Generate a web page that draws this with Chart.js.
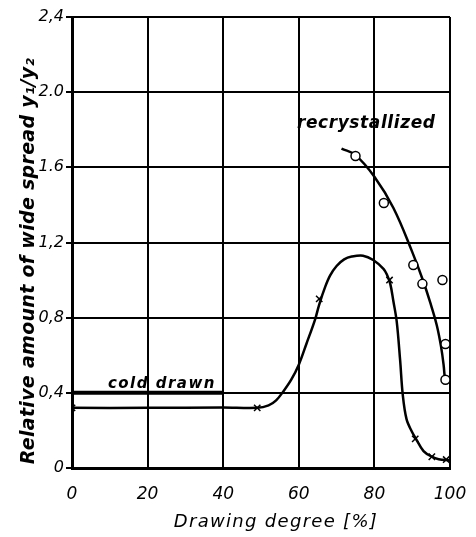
<!DOCTYPE html>
<html>
<head>
<meta charset="utf-8">
<script src="https://cdn.jsdelivr.net/npm/chart.js@4/dist/chart.umd.min.js"></script>
<style>
  html, body { margin: 0; padding: 0; background: #fff; }
  #wrap { width: 476px; height: 537px; }
</style>
</head>
<body>
<div id="wrap"><canvas id="c" width="476" height="537"></canvas></div>
<script>
// Drawing degree (%) and relative amount of wide spread, cold drawn wire (x marks)
const coldX = [0, 49, 65.4, 84, 90.8, 95.2, 99];
const coldY = [0.32, 0.32, 0.90, 1.0, 0.155, 0.06, 0.045];
// smooth trend through the cold drawn measurements
const coldCurveX = [0, 20, 40, 49, 52, 54, 56, 58, 60, 62, 64.3, 65.4, 67, 68.3, 70, 72, 74, 77, 79.7, 82.4, 83.3, 84.2, 85, 85.9, 86.8, 87.5, 88.5, 90, 91, 93, 95.2, 97, 100];
const coldCurveY = [0.32, 0.32, 0.322, 0.32, 0.333, 0.36, 0.41, 0.47, 0.55, 0.66, 0.79, 0.87, 0.965, 1.025, 1.075, 1.11, 1.125, 1.13, 1.107, 1.06, 1.03, 0.98, 0.89, 0.78, 0.575, 0.39, 0.26, 0.19, 0.155, 0.09, 0.06, 0.047, 0.04];

// recrystallized wire (open circles)
const recX = [75, 82.5, 90.3, 92.7, 98, 98.8, 98.8];
const recY = [1.66, 1.41, 1.08, 0.98, 1.0, 0.66, 0.47];
const recCurveX = [71.3, 75, 80, 85, 90, 93, 95, 96.5, 97.6, 98.3, 98.6];
const recCurveY = [1.70, 1.665, 1.55, 1.385, 1.15, 0.99, 0.865, 0.76, 0.65, 0.55, 0.48];

// cold drawn reference level
const refX = [0, 40];
const refY = [0.4, 0.4];

// axis ticks
const xTicks = [0, 20, 40, 60, 80, 100];
const yTicks = [0, 0.4, 0.8, 1.2, 1.6, 2.0, 2.4];
const yTickLabels = ['0', '0,4', '0,8', '1,2', '1.6', '2.0', '2,4'];

const pts = (xs, ys) => xs.map((x, i) => ({ x: x, y: ys[i] }));

const FONT = 'DejaVu Sans';

const labelsPlugin = {
  id: 'labels',
  afterDraw(chart) {
    const { ctx, scales } = chart;
    const xs = scales.x, ys = scales.y;
    ctx.save();
    ctx.fillStyle = '#000';
    ctx.textBaseline = 'alphabetic';
    // curve labels
    ctx.textAlign = 'left';
    ctx.font = 'bold italic 17px ' + FONT;
    ctx.letterSpacing = '0.6px';
    ctx.fillText('recrystallized', xs.getPixelForValue(59.5), ys.getPixelForValue(1.81));
    ctx.font = 'bold italic 15px ' + FONT;
    ctx.letterSpacing = '1.5px';
    ctx.fillText('cold drawn', xs.getPixelForValue(9.5), ys.getPixelForValue(0.4) - 5);
    // axis titles
    ctx.textAlign = 'center';
    ctx.font = 'italic 18px ' + FONT;
    ctx.letterSpacing = '1.3px';
    ctx.fillText('Drawing degree [%]', 276, 527);
    ctx.translate(34, 261);
    ctx.rotate(-Math.PI / 2);
    ctx.font = 'bold italic 19px ' + FONT;
    ctx.letterSpacing = '0.3px';
    ctx.fillText('Relative amount of wide spread y\u2081/y\u2082', 0, 0);
    ctx.restore();
  }
};

new Chart(document.getElementById('c'), {
  type: 'scatter',
  data: {
    datasets: [
      { data: pts(coldCurveX, coldCurveY), showLine: true, borderColor: '#000', borderWidth: 2.5, pointRadius: 0, tension: 0.35, order: 2 },
      { data: pts(coldX, coldY), pointStyle: 'crossRot', pointRadius: 4.5, borderColor: '#000', borderWidth: 1.5, order: 1 },
      { data: pts(recCurveX, recCurveY), showLine: true, borderColor: '#000', borderWidth: 2.5, pointRadius: 0, tension: 0.4, order: 2 },
      { data: pts(recX, recY), pointStyle: 'circle', pointRadius: 4.5, backgroundColor: '#fff', borderColor: '#000', borderWidth: 1.5, order: 1 },
      { data: pts(refX, refY), showLine: true, borderColor: '#000', borderWidth: 4, pointRadius: 0, order: 2 }
    ]
  },
  options: {
    responsive: false,
    animation: false,
    events: [],
    layout: { padding: { left: 0, right: 26, top: 17, bottom: 0 } },
    plugins: { legend: { display: false }, tooltip: { enabled: false } },
    scales: {
      x: {
        type: 'linear', min: 0, max: 100,
        afterFit(s) { s.height = 69; s.paddingRight = 0; s.paddingLeft = 0; },
        afterBuildTicks(s) { s.ticks = xTicks.map(v => ({ value: v })); },
        grid: { color: '#000', lineWidth: 2, drawTicks: false },
        border: { color: '#000', width: 3 },
        ticks: { color: '#000', font: { family: FONT, size: 17, style: 'italic' }, padding: 16 }
      },
      y: {
        type: 'linear', min: 0, max: 2.4,
        afterFit(s) { s.width = 72; s.paddingTop = 0; s.paddingBottom = 0; },
        afterBuildTicks(s) { s.ticks = yTicks.map(v => ({ value: v })); },
        grid: { color: '#000', lineWidth: 2, tickLength: 6, tickColor: '#000' },
        border: { color: '#000', width: 3 },
        ticks: {
          color: '#000', font: { family: FONT, size: 16, style: 'italic' }, padding: 2,
          callback(v) { const i = yTicks.findIndex(t => Math.abs(t - v) < 1e-6); return i >= 0 ? yTickLabels[i] : ''; }
        }
      }
    }
  },
  plugins: [labelsPlugin]
});
</script>
</body>
</html>
